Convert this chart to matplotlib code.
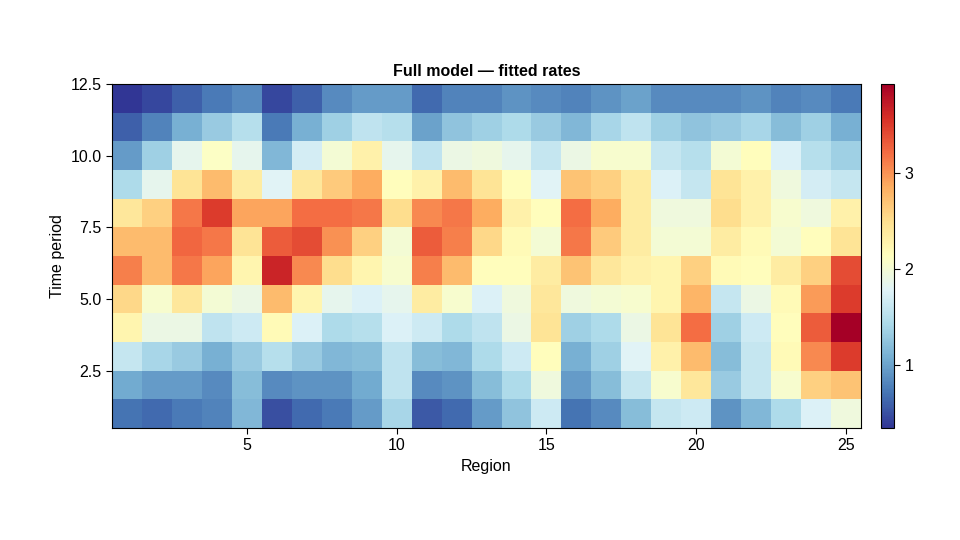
import numpy as np
import matplotlib
matplotlib.use("Agg")
import matplotlib.pyplot as plt

plt.rcParams["font.family"] = ["Liberation Sans", "DejaVu Sans"]

n_regions = 25
n_periods = 12

# fitted rates, rows = time period 1..12 (bottom to top), cols = region 1..25
rates = np.array([
    [0.70, 0.65, 0.75, 0.80, 1.15, 0.50, 0.65, 0.75, 0.95, 1.40, 0.55, 0.65, 0.95, 1.25, 1.65, 0.70, 0.85, 1.20, 1.60, 1.65, 0.90, 1.15, 1.45, 1.75, 1.95],
    [1.05, 0.95, 0.95, 0.85, 1.20, 0.85, 0.90, 0.90, 1.05, 1.55, 0.85, 0.90, 1.20, 1.45, 1.95, 0.95, 1.20, 1.60, 2.05, 2.40, 1.30, 1.60, 2.05, 2.60, 2.70],
    [1.60, 1.40, 1.30, 1.10, 1.30, 1.50, 1.30, 1.15, 1.20, 1.55, 1.20, 1.15, 1.45, 1.65, 2.15, 1.10, 1.35, 1.80, 2.30, 2.75, 1.20, 1.60, 2.20, 3.05, 3.50],
    [2.25, 1.90, 1.90, 1.55, 1.65, 2.20, 1.75, 1.45, 1.50, 1.75, 1.65, 1.45, 1.55, 1.90, 2.45, 1.35, 1.45, 1.90, 2.45, 3.20, 1.35, 1.65, 2.15, 3.30, 3.92],
    [2.55, 2.05, 2.40, 2.00, 1.90, 2.75, 2.25, 1.85, 1.75, 1.85, 2.35, 2.05, 1.75, 1.95, 2.40, 1.95, 2.00, 2.05, 2.25, 2.80, 1.60, 1.90, 2.20, 2.95, 3.50],
    [3.10, 2.75, 3.15, 2.90, 2.25, 3.65, 3.05, 2.50, 2.25, 2.05, 3.10, 2.75, 2.15, 2.15, 2.35, 2.70, 2.40, 2.30, 2.25, 2.60, 2.20, 2.15, 2.35, 2.60, 3.40],
    [2.75, 2.75, 3.25, 3.15, 2.45, 3.30, 3.40, 3.00, 2.60, 2.00, 3.30, 3.10, 2.55, 2.20, 2.00, 3.15, 2.65, 2.35, 2.00, 2.00, 2.35, 2.20, 2.00, 2.15, 2.45],
    [2.40, 2.60, 3.15, 3.50, 2.90, 2.90, 3.20, 3.20, 3.15, 2.50, 3.05, 3.15, 2.85, 2.30, 2.15, 3.20, 2.85, 2.35, 1.95, 1.95, 2.50, 2.30, 2.05, 1.95, 2.30],
    [1.45, 1.85, 2.45, 2.75, 2.35, 1.80, 2.40, 2.65, 2.85, 2.15, 2.30, 2.75, 2.45, 2.15, 1.80, 2.70, 2.60, 2.35, 1.75, 1.60, 2.45, 2.30, 1.95, 1.70, 1.60],
    [0.95, 1.35, 1.85, 2.10, 1.85, 1.15, 1.70, 2.00, 2.30, 1.85, 1.55, 1.90, 1.95, 1.85, 1.60, 1.90, 2.05, 2.05, 1.60, 1.50, 2.00, 2.15, 1.75, 1.50, 1.35],
    [0.60, 0.80, 1.10, 1.30, 1.50, 0.75, 1.10, 1.35, 1.55, 1.50, 1.00, 1.25, 1.35, 1.45, 1.30, 1.15, 1.40, 1.55, 1.35, 1.25, 1.30, 1.40, 1.20, 1.35, 1.10],
    [0.35, 0.45, 0.60, 0.75, 0.85, 0.45, 0.60, 0.85, 0.95, 0.95, 0.65, 0.80, 0.80, 0.90, 0.85, 0.80, 0.90, 1.00, 0.85, 0.85, 0.85, 0.90, 0.80, 0.85, 0.75],
])

x_ticks = [5, 10, 15, 20, 25]
y_ticks = [2.5, 5.0, 7.5, 10.0, 12.5]
cbar_ticks = [1, 2, 3]

fig = plt.figure(figsize=(9.6, 5.4), dpi=100)
ax = fig.add_axes([0.1167, 0.2074, 0.7802, 0.637])
cax = fig.add_axes([0.918, 0.2074, 0.0135, 0.637])

xe = np.arange(n_regions + 1) + 0.5
ye = np.arange(n_periods + 1) + 0.5
mesh = ax.pcolormesh(xe, ye, rates, cmap="RdYlBu_r", vmin=0.35, vmax=3.92)

ax.set_xlim(0.5, 25.5)
ax.set_ylim(0.5, 12.5)
ax.set_xticks(x_ticks)
ax.set_yticks(y_ticks)
ax.set_yticklabels([f"{v:.1f}" for v in y_ticks])
ax.tick_params(labelsize=11.5, length=4, width=0.8)
ax.set_xlabel("Region", fontsize=11.5)
ax.set_ylabel("Time period", fontsize=11.5)
ax.set_title("Full model — fitted rates", fontsize=11.5, fontweight="bold")

cb = fig.colorbar(mesh, cax=cax, ticks=cbar_ticks)
cb.ax.tick_params(labelsize=11.5, length=4, width=0.8)
cb.outline.set_linewidth(0.8)

fig.savefig("out.png", dpi=100)
